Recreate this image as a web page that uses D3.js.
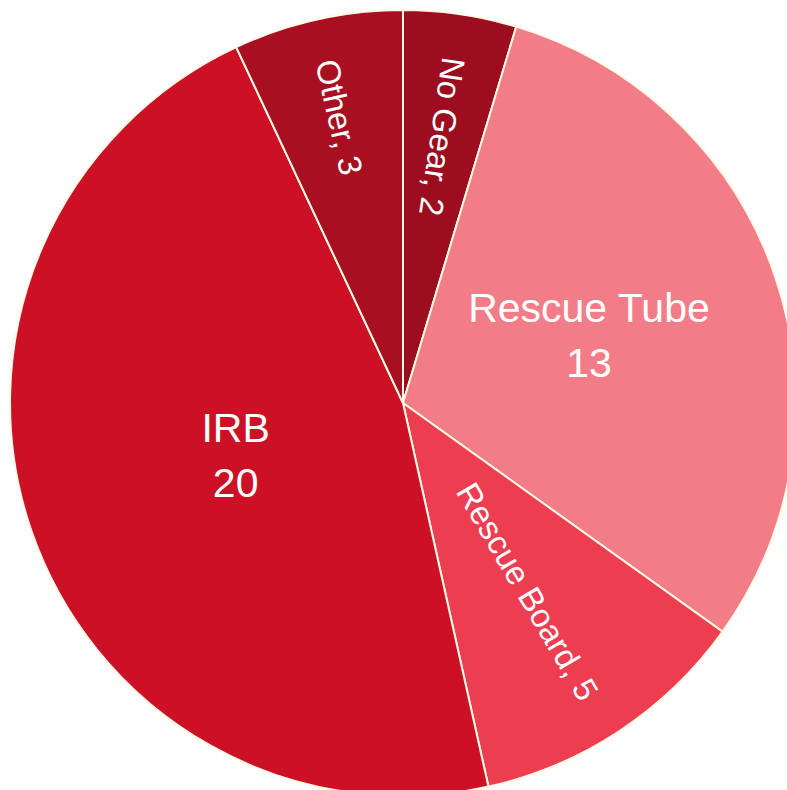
<!DOCTYPE html>
<html><head><meta charset="utf-8">
<script src="https://cdn.jsdelivr.net/npm/d3@7"></script>
<style>html,body{margin:0;padding:0;background:#fff;}svg{display:block;}</style>
</head><body>
<svg id="chart" width="787" height="790"></svg>
<script>
const categories = ["No Gear", "Rescue Tube", "Rescue Board", "IRB", "Other"];
const values = [2, 13, 5, 20, 3];
const colors = ["#9b0d1f", "#f27d88", "#ec3d51", "#cc1127", "#a80f21"];
// label style per slice: "radial" rotated text, "center" horizontal two-line text
const labelModes = ["radialIn", "center", "radialOut", "center", "radialIn"];

const W = 787, H = 790, cx = 403, cy = 403, R = 393;
const labelRadius = [0.685, 0.50, 0.575, 0.45, 0.745];

const svg = d3.select("#chart");
const g = svg.append("g").attr("transform", `translate(${cx},${cy})`);

const data = categories.map((c, i) => ({ name: c, value: values[i], color: colors[i], mode: labelModes[i], lr: labelRadius[i] }));
const pie = d3.pie().value(d => d.value).sort(null);
const arc = d3.arc().innerRadius(0).outerRadius(R);
const arcs = pie(data);

g.selectAll("path.slice").data(arcs).join("path")
  .attr("class", "slice")
  .attr("d", arc)
  .attr("fill", d => d.data.color)
  .attr("stroke", "#fff9e6")
  .attr("stroke-width", 2);

const font = "'Liberation Sans', Arial, sans-serif";
arcs.forEach(a => {
  const mid = (a.startAngle + a.endAngle) / 2;
  const r = a.data.lr * R;
  const x = Math.sin(mid) * r, y = -Math.cos(mid) * r;
  const deg = mid * 180 / Math.PI;
  if (a.data.mode === "center") {
    const t = g.append("text")
      .attr("text-anchor", "middle")
      .attr("font-family", font)
      .attr("font-size", 41)
      .attr("fill", "#fff");
    t.append("tspan").attr("x", x).attr("y", y - 18).text(a.data.name);
    t.append("tspan").attr("x", x).attr("y", y + 37).text(a.data.value);
  } else {
    const rot = a.data.mode === "radialIn" ? deg + 90 : deg - 90 + 3;
    g.append("text")
      .attr("transform", `translate(${x},${y}) rotate(${rot})`)
      .attr("text-anchor", "middle")
      .attr("dy", "0.35em")
      .attr("font-family", font)
      .attr("font-size", 33)
      .attr("fill", "#fff")
      .text(`${a.data.name}, ${a.data.value}`);
  }
});
</script>
</body></html>
